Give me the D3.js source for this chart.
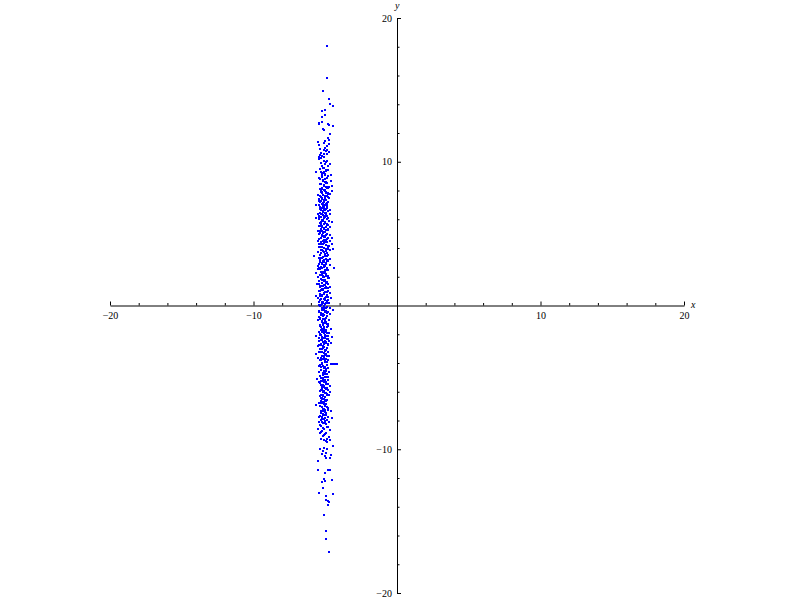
<!DOCTYPE html>
<html>
<head>
<meta charset="utf-8">
<script src="https://cdn.jsdelivr.net/npm/d3@7"></script>
<style>
  html, body { margin: 0; padding: 0; background: #ffffff; }
  svg { display: block; }
</style>
</head>
<body>
<svg id="chart" width="800" height="600"></svg>
<script>
// Axis settings
const xDomain = [-20, 20];
const yDomain = [-20, 20];
const majorTicks = [-20, -10, 10, 20];
const minorTicks = [-18, -16, -14, -12, -8, -6, -4, -2, 2, 4, 6, 8, 12, 14, 16, 18];
const xTitle = "x";
const yTitle = "y";

// Point values (x, y)
const xValues = [
-4.88,-4.88,
-5.16,-4.74,-4.67,-4.46,-5.02,-5.23,-5.02,-5.23,-5.44,-5.23,-5.44,-4.81,-4.74,-4.46,-5.16,-5.09,-4.67,-4.81,
-5.51,-5.44,-5.02,-5.09,-4.74,-4.74,-4.88,-5.37,-5.02,-4.88,-4.74,-5.37,-5.23,-5.09,-5.44,-5.30,-5.09,-4.95,-5.02,-4.67,
-5.23,-5.09,-4.95,-4.81,-5.65,-5.30,-5.16,-5.02,-4.60,-5.23,-5.37,-5.16,-5.02,-4.88,-4.60,-5.09,-4.95,-5.23,-4.81,-4.53,-4.74,
-5.30,-5.09,-4.95,-5.23,-4.81,-4.53,-5.51,-5.37,-5.16,-5.02,-4.88,-4.74,-5.44,-5.23,-4.95,-4.67,-5.30,-5.09,-4.81,-5.16,
-5.02,-5.65,-5.44,-4.88,-5.37,-5.23,-5.09,-4.95,-4.81,-4.67,-5.16,-5.37,-5.02,-5.51,-5.16,-4.88,-4.67,-5.30,-5.09,-4.81,
-5.65,-5.44,-5.23,-5.02,-4.74,-5.37,-5.09,-4.88,-4.53,-5.44,-5.23,-4.95,-4.67,-5.30,-5.09,-4.81,-5.51,-5.02,-5.16,-5.44,
-5.23,-4.95,-4.67,-5.09,-4.81,-5.30,-4.53,
-5.51,-5.30,-5.09,-4.88,-4.67,-5.44,-5.16,-4.95,-4.74,-4.53,-5.37,-5.09,-4.81,-5.23,-4.95,-4.67,-5.51,-4.46,-5.30,-5.02,
-4.81,-5.16,-5.44,-5.79,-4.67,-4.95,-5.37,-5.09,-4.81,-5.23,-4.95,-5.51,-4.67,-4.39,-5.44,-5.23,-5.02,-4.81,-5.30,-5.65,
-5.09,-5.37,-5.16,-4.95,-5.51,-5.30,-4.74,-5.09,-5.44,-5.23,-4.95,-4.81,-5.16,-5.58,-5.37,-5.02,-4.67,-4.81,-5.23,
-5.44,-5.23,-5.02,-4.81,-4.67,-5.37,-5.09,-4.88,-5.65,-5.23,-5.51,-5.30,-5.02,-4.81,-4.60,-5.16,-4.95,-5.44,-4.74,-5.23,
-5.37,-5.09,-4.88,-4.67,-5.23,-5.02,-5.44,-4.81,-4.46,-5.30,-5.09,-4.88,-4.67,-5.37,-5.16,-4.95,-4.74,-5.51,-5.23,-5.02,
-4.81,-5.37,-5.09,-4.88,-4.60,-5.23,-5.44,-5.16,-4.95,-4.74,-5.30,-5.02,-4.81,-5.65,-4.53,-5.16,-4.88,-5.44,
-5.44,-5.23,-4.95,-4.74,-5.30,-5.09,-4.81,-5.51,-4.60,-5.16,-4.88,-5.37,-5.02,-5.65,-5.23,-4.81,-5.09,-4.95,-5.23,-4.74,
-5.51,-5.09,-4.81,-5.30,-5.02,-4.60,-4.46,-4.32,-4.18,-5.23,-4.88,-5.44,-5.09,-4.81,-5.30,-5.02,-4.74,-5.16,-4.95,-5.37,
-4.81,-5.16,-5.58,-5.02,-5.30,-4.95,-5.44,-4.81,-5.16,-4.67,-5.23,-5.02,-4.88,
-5.30,-5.09,-4.81,-4.67,-4.95,-5.16,-4.74,-5.37,-5.23,-5.02,-5.09,-5.65,-5.44,-4.95,-5.30,-5.02,-4.88,-4.81,-5.16,-4.60,
-4.95,-5.30,-5.09,-5.37,-4.81,-4.53,-5.23,-5.02,-4.74,-5.44,-5.16,-4.95,-5.30,-4.81,-5.09,-5.51,-4.67,-5.23,-5.37,-5.02,
-5.16,-4.74,-4.88,-5.30,
-5.09,-4.95,-4.67,-4.88,-4.46,-5.37,-5.09,-4.88,-5.16,-5.23,-4.95,-4.60,-5.02,-4.95,-4.67,-5.51,-5.51,-4.81,-4.67,-5.02,
-5.09,-5.02,-4.53,-5.23,-5.16,
-5.44,-4.46,-4.95,-4.95,-4.81,-4.74,-4.81,-5.09,-4.95,-4.95,-4.74
];
const yValues = [
18.04,15.81,
14.89,14.40,13.99,13.85,13.57,13.50,13.22,13.08,12.73,12.80,12.66,12.66,12.59,12.52,12.25,12.18,11.90,11.62,
11.36,11.18,11.46,11.32,11.50,11.23,11.09,10.92,10.95,10.81,10.71,10.46,10.39,10.51,10.32,10.23,10.07,9.97,9.86,9.81,
9.69,9.55,9.42,9.46,9.30,9.32,9.23,9.16,9.09,9.04,8.81,8.72,8.58,8.49,8.67,8.35,8.26,8.16,8.16,8.28,8.26,
8.00,8.02,7.93,7.84,7.86,7.98,7.72,7.61,7.70,7.56,7.65,7.51,7.42,7.47,7.37,7.75,7.28,7.23,7.19,7.10,
7.00,6.96,7.00,6.96,6.86,6.77,6.68,6.72,6.59,6.63,6.54,6.45,6.45,6.35,6.31,6.26,6.35,6.17,6.07,6.07,
6.12,6.03,5.94,5.84,5.89,5.75,5.66,5.70,5.80,5.56,5.52,5.47,5.43,5.33,5.29,5.24,5.19,5.10,5.05,4.96,
4.87,4.91,4.91,4.78,4.73,4.68,4.73,
4.52,4.45,4.54,4.40,4.50,4.27,4.31,4.22,4.17,4.31,4.08,4.03,3.99,3.89,3.80,3.85,3.75,3.94,3.62,3.57,
3.48,3.38,3.29,3.43,3.24,3.24,3.15,3.06,3.10,2.92,2.87,2.78,2.83,2.59,2.64,2.59,2.50,2.46,2.36,2.27,
2.27,2.13,2.04,2.08,1.95,1.85,1.90,1.76,1.67,1.57,1.62,1.48,1.39,1.53,1.30,1.25,1.30,1.20,1.16,
1.02,1.06,0.97,1.02,0.88,0.79,0.83,0.74,0.69,0.65,0.55,0.46,0.51,0.41,0.55,0.27,0.18,0.23,0.14,0.09,
-0.05,-0.14,-0.10,-0.19,-0.28,-0.37,-0.42,-0.42,-0.28,-0.56,-0.65,-0.70,-0.61,-0.84,-0.93,-0.89,-1.02,-0.98,-1.16,-1.21,
-1.30,-1.40,-1.49,-1.53,-1.63,-1.63,-1.81,-1.77,-1.86,-1.91,-2.05,-2.14,-2.09,-2.14,-2.18,-2.28,-2.32,-2.28,
-2.46,-2.42,-2.51,-2.46,-2.65,-2.69,-2.74,-2.79,-2.60,-2.88,-2.93,-3.02,-3.11,-3.39,-3.21,-3.21,-3.30,-3.44,-3.53,-3.48,
-3.67,-3.72,-3.76,-3.81,-3.90,-4.04,-4.04,-4.04,-4.04,-4.09,-4.13,-4.23,-4.32,-4.37,-4.50,-4.60,-4.64,-4.69,-4.78,-4.92,
-4.97,-5.06,-5.11,-5.15,-5.25,-5.29,-5.34,-5.43,-5.53,-5.57,-5.71,-5.76,-5.80,
-5.91,-5.98,-5.89,-6.03,-6.12,-6.21,-6.26,-6.30,-6.44,-6.54,-6.68,-6.95,-6.81,-6.86,-6.63,-7.00,-7.09,-7.28,-7.37,-7.37,
-7.46,-7.51,-7.65,-7.70,-7.74,-7.84,-7.93,-8.02,-8.07,-8.07,-8.16,-8.25,-8.39,-8.48,-8.58,-8.62,-8.67,-8.72,-8.90,-8.95,
-9.09,-9.13,-9.27,-9.27,
-9.37,-9.41,-9.37,-9.51,-9.74,-9.97,-9.92,-9.97,-10.11,-10.34,-10.25,-10.39,-10.48,-10.62,-10.62,-10.85,-11.45,-11.41,-11.45,-11.64,
-12.10,-12.24,-12.15,-12.29,-12.71,
-13.01,-13.08,-13.22,-13.50,-13.57,-13.70,-13.91,-14.54,-15.72,-16.21,-17.12
];

// Additional points from the densely packed core of the cloud
const xCore = [
-5.12,-4.97,-5.33,-4.86,-5.20,-5.06,-5.41,-4.90,-5.27,-5.00,-4.78,-5.15,-5.36,-4.93,-5.09,-5.24,-4.83,-5.47,-5.04,-5.18,
-4.95,-5.29,-5.11,-4.88,-5.39,-5.02,-5.21,-4.81,-5.14,-5.32,-4.99,-5.07,-5.44,-4.91,-5.25,-5.13,-4.85,-5.35,-5.05,-5.19,
-5.28,-4.94,-5.10,-5.42,-4.87,-5.17,-5.03,-5.31,-4.79,-5.22,-5.08,-4.96,-5.38,-5.14,-4.89,-5.26,-5.01,-5.45,-4.92,-5.16,
-5.06,-5.34,-4.84,-5.20,-4.98,-5.30,-5.11,-4.90,-5.40,-5.04,-5.23,-4.82,-5.13,-5.36,-4.96,-5.09,-5.27,-4.87,-5.48,-5.02,
-5.18,-4.93,-5.32,-5.07,-4.80,-5.25,-5.12,-4.95,-5.43,-5.00,-5.21,-4.86,-5.15,-5.37,-4.99,-5.10,-5.29,-4.83,-5.05,-5.34,
-4.91,-5.19,-5.03,-5.41,-4.88,-5.24,-5.08,-4.97,-5.30,-5.13,-4.85,-5.46,-5.01,-5.22,-4.94,-5.16,-5.35,-4.81,-5.06,-5.27,
-5.11,-4.90,-5.38,-5.04,-5.20,-4.84,-5.31,-5.09,-4.96,-5.42,-5.14,-4.87,-5.25,-5.02,-5.33,-4.92,-5.17,-5.07,-4.98,-5.39,
-5.05,-5.23,-4.86,-5.15,-5.30,-4.95,-5.10,-5.44,-4.89,-5.19,-5.01,-5.28,-4.82,-5.12,-5.36,-4.97,-5.08,-5.24,-4.93,-5.40,
-5.16,-4.88,-5.32,-5.03,-5.21,-4.91,-5.13,-5.37,-4.99,-5.26,-4.84,-5.08,-5.30,-5.00,-5.19,-4.94,-5.42,-5.11,-4.86,-5.23,
-5.04,-5.35,-4.90,-5.14,-5.28,-4.97,-5.10
];
const yCore = [
10.85,10.74,10.62,10.55,10.42,10.30,10.18,10.05,9.94,9.83,
9.72,9.60,9.50,9.38,9.27,9.12,9.00,8.90,8.77,8.64,
8.53,8.42,8.31,8.20,8.09,7.96,7.88,7.79,7.67,7.58,
7.47,7.33,7.25,7.14,7.04,6.91,6.82,6.70,6.61,6.50,
6.40,6.28,6.20,6.10,5.99,5.91,5.78,5.68,5.59,5.49,
5.38,5.27,5.15,5.07,4.98,4.85,4.76,4.64,4.56,4.47,
4.35,4.25,4.13,4.05,3.96,3.83,3.71,3.64,3.52,3.41,
3.33,3.20,3.12,3.01,2.95,2.81,2.70,2.62,2.53,2.41,
2.31,2.21,2.10,2.00,1.93,1.80,1.71,1.60,1.51,1.43,
1.34,1.22,1.10,1.00,0.92,0.81,0.71,0.60,0.49,0.38,
0.31,0.20,0.11,0.02,-0.09,-0.18,-0.31,-0.40,-0.50,-0.60,
-0.72,-0.80,-0.91,-1.05,-1.12,-1.25,-1.35,-1.45,-1.57,-1.68,
-1.74,-1.88,-1.98,-2.07,-2.20,-2.31,-2.40,-2.52,-2.61,-2.72,
-2.84,-2.95,-3.06,-3.15,-3.26,-3.36,-3.49,-3.58,-3.69,-3.79,
-3.88,-4.00,-4.11,-4.20,-4.30,-4.41,-4.53,-4.62,-4.74,-4.85,
-4.95,-5.03,-5.18,-5.27,-5.38,-5.48,-5.60,-5.68,-5.83,-5.94,
-6.05,-6.16,-6.24,-6.36,-6.48,-6.58,-6.71,-6.79,-6.90,-7.03,
-7.13,-7.22,-7.33,-7.42,-7.56,-7.62,-7.79,-7.88,-7.98,-8.11,
-8.20,-8.32,-8.44,-8.53,-8.78,-8.85,-9.02
];

// Second set of points from the solid-looking middle of the cloud
const xCore2 = [
-5.03,-5.26,-4.89,-5.14,-4.98,-5.35,-5.08,-4.84,-5.21,-5.00,
-5.31,-4.92,-5.17,-5.05,-4.80,-5.24,-5.11,-5.39,-4.95,-5.15,
-5.06,-4.87,-5.29,-5.13,-4.96,-5.22,-5.44,-5.01,-4.85,-5.18,
-5.27,-5.04,-4.91,-5.34,-5.10,-4.82,-5.20,-5.07,-5.38,-4.94,
-5.12,-5.30,-4.88,-5.16,-5.02,-5.25,-4.97,-5.41,-5.08,-4.83,
-5.19,-5.33,-5.00,-4.90,-5.14,-5.28,-5.06,-4.86,-5.23,-5.43,
-4.99,-5.11,-5.36,-4.93,-5.17,-5.04,-5.26,-4.81,-5.13,-5.32,
-5.01,-4.89,-5.22,-5.09,-5.40,-4.95,-5.15,-5.28,-4.87,-5.06,
-5.20,-5.35,-4.92,-5.12,-5.03,-5.24,-4.84,-5.31,-5.10,-4.98,
-5.18,-5.45,-5.05,-4.90,-5.27,-5.13,-4.96,-5.37,-5.02,-5.21,
-4.86,-5.16,-5.30,-5.07,-4.94,-5.23,-5.11,-5.39,-4.88,-5.04,
-5.25,-5.00,-5.14,-4.83,-5.33,-5.08,-5.19,-4.97,-5.42,-5.12,
-5.03,-4.91,-5.29,-5.16,-5.05,-4.85,-5.22,-5.36,-4.99,-5.10,
-5.27,-4.93,-5.18,-5.01,-5.34,-4.88,-5.13,-5.24,-5.06,-4.96,
-5.31,-5.09,-4.90,-5.20,-5.40,-5.02,-4.86,-5.15,-5.28,-5.07,
-4.95,-5.23,-5.11,-5.37,-4.89,-5.17,-5.04,-5.30,-4.92,-5.14,
-5.21,-5.00,-5.33
];
const yCore2 = [
9.05,8.96,8.85,8.74,8.61,8.47,8.36,8.25,8.13,8.04,
7.91,7.82,7.70,7.62,7.52,7.40,7.30,7.18,7.08,6.98,
6.87,6.76,6.66,6.56,6.44,6.34,6.24,6.14,6.04,5.95,
5.83,5.73,5.63,5.54,5.42,5.33,5.21,5.12,5.01,4.92,
4.81,4.70,4.61,4.51,4.40,4.30,4.20,4.09,3.99,3.90,
3.78,3.68,3.58,3.47,3.37,3.27,3.17,3.07,2.97,2.88,
2.76,2.66,2.57,2.46,2.36,2.26,2.16,2.05,1.96,1.87,
1.75,1.65,1.56,1.46,1.38,1.27,1.16,1.06,0.96,0.86,
0.76,0.66,0.56,0.45,0.35,0.25,0.15,0.06,-0.04,-0.14,
-0.24,-0.35,-0.45,-0.55,-0.66,-0.76,-0.86,-0.96,-1.08,-1.17,
-1.29,-1.39,-1.50,-1.61,-1.71,-1.82,-1.93,-2.02,-2.13,-2.25,
-2.35,-2.45,-2.56,-2.66,-2.77,-2.89,-2.99,-3.10,-3.20,-3.31,
-3.42,-3.53,-3.63,-3.74,-3.84,-3.95,-4.06,-4.16,-4.26,-4.36,
-4.47,-4.58,-4.68,-4.79,-4.89,-5.00,-5.12,-5.22,-5.33,-5.43,
-5.53,-5.65,-5.76,-5.86,-5.97,-6.09,-6.20,-6.31,-6.41,-6.52,
-6.64,-6.75,-6.86,-6.97,-7.08,-7.19,-7.30,-7.40,-7.51,-7.63,
-7.74,-7.85,-7.96
];

const points = xValues.map((x, i) => ({ x: x, y: yValues[i] }))
  .concat(xCore.map((x, i) => ({ x: x, y: yCore[i] })))
  .concat(xCore2.map((x, i) => ({ x: x, y: yCore2[i] })));

const svg = d3.select("#chart");
const x = d3.scaleLinear().domain(xDomain).range([110, 684]);
const y = d3.scaleLinear().domain(yDomain).range([593, 18]);

const fmt = d => d3.format("d")(d);
const fontFamily = "'Liberation Serif', 'Times New Roman', serif";

// x-axis: minor ticks
svg.append("g")
  .attr("transform", `translate(0,${y(0)})`)
  .call(d3.axisBottom(x).tickValues(minorTicks).tickSizeInner(-2.5).tickSizeOuter(0).tickFormat(""))
  .call(g => g.select(".domain").remove())
  .call(g => g.selectAll("line").attr("stroke", "#000"));

// x-axis: major ticks + labels
svg.append("g")
  .attr("transform", `translate(0,${y(0)})`)
  .call(d3.axisBottom(x).tickValues(majorTicks).tickSizeInner(-4).tickSizeOuter(0).tickPadding(6).tickFormat(fmt))
  .call(g => g.select(".domain").attr("stroke", "#000"))
  .call(g => g.selectAll("line").attr("stroke", "#000"));

// y-axis: minor ticks
svg.append("g")
  .attr("transform", `translate(${x(0)},0)`)
  .call(d3.axisLeft(y).tickValues(minorTicks).tickSizeInner(-2.5).tickSizeOuter(0).tickFormat(""))
  .call(g => g.select(".domain").remove())
  .call(g => g.selectAll("line").attr("stroke", "#000"));

// y-axis: major ticks + labels
svg.append("g")
  .attr("transform", `translate(${x(0)},0)`)
  .call(d3.axisLeft(y).tickValues(majorTicks).tickSizeInner(-4).tickSizeOuter(0).tickPadding(5).tickFormat(fmt))
  .call(g => g.select(".domain").attr("stroke", "#000"))
  .call(g => g.selectAll("line").attr("stroke", "#000"));

svg.selectAll(".tick text").attr("font-family", fontFamily).attr("font-size", 10).attr("fill", "#000");

// Axis titles
svg.append("text")
  .attr("x", x(20) + 7).attr("y", y(0) + 2)
  .attr("font-family", fontFamily).attr("font-style", "italic").attr("font-size", 10)
  .text(xTitle);
svg.append("text")
  .attr("x", x(0) - 2).attr("y", y(20) - 9)
  .attr("font-family", fontFamily).attr("font-style", "italic").attr("font-size", 10)
  .text(yTitle);

// Points: 2x2 px squares snapped to the pixel grid
svg.append("g")
  .attr("shape-rendering", "crispEdges")
  .selectAll("rect")
  .data(points)
  .join("rect")
  .attr("x", d => Math.round(x(d.x)) - 1)
  .attr("y", d => Math.round(y(d.y)) - 1)
  .attr("width", 2)
  .attr("height", 2)
  .attr("fill", "#0000ff");
</script>
</body>
</html>
